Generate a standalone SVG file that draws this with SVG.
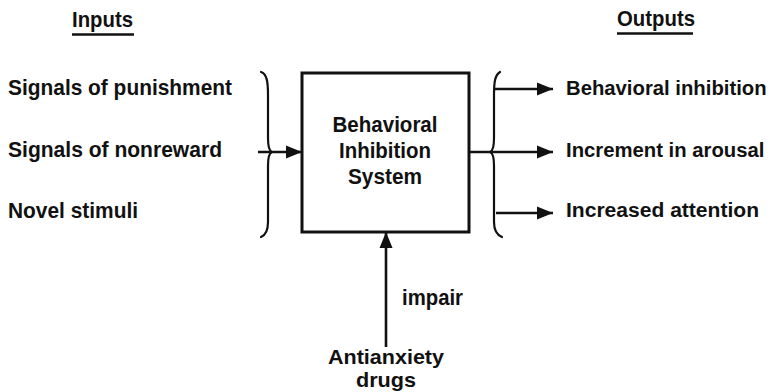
<svg xmlns="http://www.w3.org/2000/svg" width="772" height="392" viewBox="0 0 772 392">
  <style>
    text { font-family: "Liberation Sans", Arial, Helvetica, sans-serif; font-weight: bold; font-size: 22px; fill: #111; }
    .mid { text-anchor: middle; }
    .small { font-size: 20.5px; }
    .out { font-size: 20.3px; }
    .line { fill: none; stroke: #111; stroke-width: 2.6; }
    .brace { fill: none; stroke: #111; stroke-width: 2.2; stroke-linecap: round; }
    .box { fill: #fff; stroke: #111; stroke-width: 3; }
  </style>
  <defs>
    <marker id="arrow" markerUnits="userSpaceOnUse" markerWidth="16" markerHeight="14" refX="16" refY="7" orient="auto">
      <path d="M0,0.5 L16,7 L0,13.5 Z" fill="#111"/>
    </marker>
  </defs>
  <rect width="772" height="392" fill="#fff"/>

  <!-- column headings -->
  <g id="heading-inputs">
    <text x="72" y="27" textLength="61" lengthAdjust="spacingAndGlyphs">Inputs</text>
    <line class="line" x1="72" y1="34.5" x2="134" y2="34.5"/>
  </g>
  <g id="heading-outputs">
    <text x="617" y="26" textLength="78" lengthAdjust="spacingAndGlyphs">Outputs</text>
    <line class="line" x1="617" y1="33.5" x2="693" y2="33.5"/>
  </g>

  <!-- input stimuli -->
  <g id="inputs">
    <text x="8" y="95" textLength="224" lengthAdjust="spacingAndGlyphs">Signals of punishment</text>
    <text x="8" y="157" textLength="214" lengthAdjust="spacingAndGlyphs">Signals of nonreward</text>
    <text x="8" y="218" textLength="130" lengthAdjust="spacingAndGlyphs">Novel stimuli</text>
    <path class="brace" d="M261,72 C267,74 268,82 268,95 L268,138 C268,147 269,151 272,152 C269,153 268,157 268,166 L268,222 C268,230 266,235 261,237"/>
  </g>

  <!-- central system -->
  <g id="bis">
    <rect class="box" x="302" y="73" width="167" height="159"/>
    <text class="mid" x="385" y="132" textLength="105" lengthAdjust="spacingAndGlyphs">Behavioral</text>
    <text class="mid" x="385" y="158" textLength="92" lengthAdjust="spacingAndGlyphs">Inhibition</text>
    <text class="mid" x="385" y="184" textLength="74" lengthAdjust="spacingAndGlyphs">System</text>
  </g>

  <!-- outputs -->
  <g id="outputs">
    <path class="brace" d="M500,72 C495,75 494,82 494,95 L494,138 C494,147 493,151 490,152 C493,153 494,157 494,166 L494,222 C494,230 497,235 502,237"/>
    <text class="out" x="566" y="95">Behavioral inhibition</text>
    <text class="out" x="566" y="157">Increment in arousal</text>
    <text class="out" x="566" y="217" textLength="193" lengthAdjust="spacingAndGlyphs">Increased attention</text>
  </g>

  <!-- drug influence -->
  <g id="drugs">
    <text x="402" y="305" textLength="61" lengthAdjust="spacingAndGlyphs">impair</text>
    <text class="mid small" x="386" y="364" textLength="116" lengthAdjust="spacingAndGlyphs">Antianxiety</text>
    <text class="mid small" x="386" y="387" textLength="60" lengthAdjust="spacingAndGlyphs">drugs</text>
  </g>

  <!-- connectors -->
  <g id="connectors">
    <path class="line" d="M258,152 H302" marker-end="url(#arrow)"/>
    <path class="line" d="M469,152 H553" marker-end="url(#arrow)"/>
    <path class="line" d="M495,89 H553" marker-end="url(#arrow)"/>
    <path class="line" d="M496,213 H553" marker-end="url(#arrow)"/>
    <path class="line" d="M386,347 V232" marker-end="url(#arrow)"/>
  </g>
</svg>
